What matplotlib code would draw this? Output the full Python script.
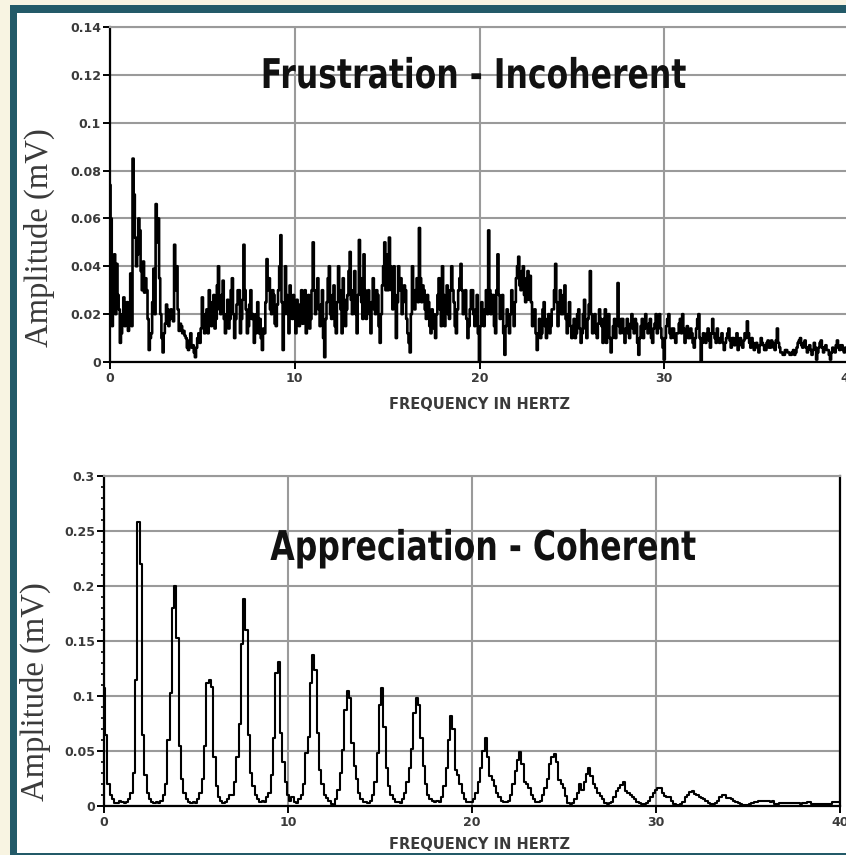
import numpy as np
import matplotlib

matplotlib.use("Agg")
import matplotlib.pyplot as plt
from matplotlib.patches import Rectangle
from matplotlib.patheffects import AbstractPathEffect
from matplotlib.transforms import Affine2D

# frustration spectrum, every 0.0625 Hz from 0 to 40 Hz, one row per hertz
frustration_amp = [
    0.074, 0.060, 0.015, 0.030, 0.045, 0.020, 0.041, 0.028, 0.022, 0.008, 0.012, 0.020, 0.027, 0.015, 0.018, 0.025,
    0.013, 0.020, 0.037, 0.015, 0.085, 0.070, 0.052, 0.040, 0.045, 0.060, 0.055, 0.038, 0.030, 0.042, 0.029, 0.035,
    0.030, 0.018, 0.005, 0.010, 0.012, 0.025, 0.039, 0.020, 0.066, 0.050, 0.060, 0.035, 0.020, 0.010, 0.004, 0.012,
    0.016, 0.024, 0.022, 0.015, 0.018, 0.022, 0.020, 0.017, 0.049, 0.030, 0.040, 0.022, 0.013, 0.016, 0.015, 0.012,
    0.013, 0.011, 0.010, 0.006, 0.005, 0.009, 0.012, 0.006, 0.007, 0.004, 0.002, 0.006, 0.010, 0.012, 0.008, 0.014,
    0.027, 0.016, 0.012, 0.020, 0.022, 0.012, 0.030, 0.018, 0.015, 0.025, 0.028, 0.014, 0.018, 0.032, 0.040, 0.022,
    0.020, 0.028, 0.034, 0.018, 0.012, 0.020, 0.026, 0.014, 0.018, 0.030, 0.035, 0.020, 0.010, 0.018, 0.024, 0.030,
    0.030, 0.012, 0.018, 0.026, 0.049, 0.030, 0.022, 0.012, 0.015, 0.024, 0.030, 0.018, 0.020, 0.008, 0.012, 0.020,
    0.025, 0.012, 0.018, 0.010, 0.005, 0.014, 0.012, 0.025, 0.043, 0.030, 0.035, 0.022, 0.020, 0.030, 0.028, 0.016,
    0.015, 0.024, 0.030, 0.040, 0.053, 0.025, 0.005, 0.020, 0.040, 0.028, 0.020, 0.012, 0.032, 0.022, 0.018, 0.028,
    0.018, 0.012, 0.026, 0.020, 0.015, 0.024, 0.030, 0.016, 0.022, 0.030, 0.012, 0.020, 0.028, 0.014, 0.018, 0.030,
    0.050, 0.030, 0.020, 0.028, 0.035, 0.022, 0.015, 0.024, 0.030, 0.010, 0.002, 0.018, 0.025, 0.035, 0.040, 0.020,
    0.018, 0.028, 0.032, 0.015, 0.012, 0.025, 0.040, 0.030, 0.022, 0.012, 0.035, 0.026, 0.015, 0.022, 0.028, 0.038,
    0.046, 0.026, 0.020, 0.030, 0.038, 0.020, 0.012, 0.028, 0.051, 0.035, 0.025, 0.018, 0.045, 0.030, 0.018, 0.026,
    0.030, 0.020, 0.012, 0.025, 0.035, 0.022, 0.020, 0.030, 0.028, 0.015, 0.008, 0.020, 0.032, 0.040, 0.050, 0.030,
    0.045, 0.030, 0.052, 0.040, 0.030, 0.022, 0.040, 0.028, 0.010, 0.025, 0.040, 0.030, 0.035, 0.020, 0.025, 0.032,
    0.030, 0.018, 0.012, 0.008, 0.004, 0.020, 0.040, 0.030, 0.022, 0.030, 0.035, 0.025, 0.056, 0.035, 0.025, 0.032,
    0.030, 0.022, 0.018, 0.028, 0.025, 0.015, 0.012, 0.022, 0.020, 0.014, 0.010, 0.020, 0.028, 0.035, 0.022, 0.015,
    0.040, 0.028, 0.015, 0.025, 0.032, 0.020, 0.018, 0.030, 0.040, 0.030, 0.025, 0.015, 0.012, 0.022, 0.030, 0.035,
    0.041, 0.030, 0.020, 0.028, 0.030, 0.018, 0.010, 0.015, 0.022, 0.030, 0.030, 0.020, 0.015, 0.022, 0.028, 0.012,
    0.000, 0.015, 0.025, 0.018, 0.015, 0.022, 0.030, 0.020, 0.055, 0.030, 0.020, 0.028, 0.028, 0.015, 0.012, 0.030,
    0.045, 0.028, 0.018, 0.025, 0.028, 0.012, 0.003, 0.015, 0.022, 0.018, 0.012, 0.020, 0.030, 0.022, 0.015, 0.025,
    0.035, 0.040, 0.044, 0.032, 0.030, 0.038, 0.040, 0.028, 0.025, 0.035, 0.038, 0.026, 0.036, 0.025, 0.015, 0.020,
    0.022, 0.012, 0.005, 0.012, 0.018, 0.010, 0.012, 0.022, 0.025, 0.015, 0.010, 0.018, 0.020, 0.012, 0.015, 0.022,
    0.022, 0.030, 0.041, 0.025, 0.015, 0.022, 0.030, 0.020, 0.020, 0.028, 0.032, 0.018, 0.012, 0.020, 0.025, 0.015,
    0.010, 0.015, 0.018, 0.010, 0.012, 0.020, 0.022, 0.014, 0.008, 0.012, 0.020, 0.026, 0.014, 0.010, 0.018, 0.024,
    0.038, 0.020, 0.012, 0.018, 0.020, 0.012, 0.010, 0.016, 0.022, 0.018, 0.015, 0.008, 0.018, 0.022, 0.008, 0.012,
    0.020, 0.010, 0.004, 0.010, 0.015, 0.018, 0.010, 0.016, 0.033, 0.015, 0.012, 0.018, 0.018, 0.012, 0.008, 0.014,
    0.018, 0.012, 0.010, 0.016, 0.020, 0.014, 0.012, 0.018, 0.016, 0.008, 0.003, 0.010, 0.015, 0.018, 0.010, 0.014,
    0.020, 0.015, 0.012, 0.016, 0.018, 0.010, 0.008, 0.014, 0.016, 0.020, 0.012, 0.016, 0.020, 0.014, 0.010, 0.006,
    0.001, 0.010, 0.015, 0.018, 0.020, 0.012, 0.010, 0.014, 0.014, 0.010, 0.008, 0.012, 0.012, 0.016, 0.018, 0.012,
    0.020, 0.014, 0.008, 0.012, 0.015, 0.010, 0.010, 0.014, 0.012, 0.008, 0.006, 0.010, 0.014, 0.018, 0.020, 0.010,
    0.000, 0.008, 0.012, 0.010, 0.008, 0.012, 0.014, 0.009, 0.006, 0.012, 0.018, 0.012, 0.010, 0.008, 0.014, 0.010,
    0.008, 0.010, 0.012, 0.008, 0.005, 0.008, 0.010, 0.012, 0.014, 0.009, 0.006, 0.010, 0.010, 0.007, 0.008, 0.012,
    0.005, 0.008, 0.010, 0.007, 0.006, 0.009, 0.012, 0.010, 0.017, 0.012, 0.008, 0.006, 0.010, 0.008, 0.005, 0.007,
    0.008, 0.006, 0.004, 0.007, 0.010, 0.008, 0.007, 0.005, 0.005, 0.008, 0.009, 0.006, 0.006, 0.009, 0.008, 0.006,
    0.005, 0.009, 0.014, 0.008, 0.006, 0.004, 0.004, 0.003, 0.003, 0.005, 0.005, 0.004, 0.004, 0.003, 0.003, 0.004,
    0.005, 0.003, 0.004, 0.006, 0.008, 0.009, 0.010, 0.007, 0.006, 0.008, 0.009, 0.006, 0.004, 0.006, 0.007, 0.005,
    0.003, 0.005, 0.008, 0.006, 0.001, 0.004, 0.006, 0.008, 0.009, 0.006, 0.004, 0.006, 0.007, 0.005, 0.005, 0.003,
    0.001, 0.004, 0.006, 0.005, 0.004, 0.007, 0.009, 0.006, 0.005, 0.007, 0.007, 0.005, 0.004, 0.006, 0.006, 0.004,
    0.005,
]

# appreciation spectrum, every 0.125 Hz from 0 to 40 Hz, one row per hertz
appreciation_amp = [
    0.107, 0.065, 0.020, 0.010, 0.006, 0.003, 0.003, 0.005,
    0.004, 0.003, 0.004, 0.006, 0.012, 0.030, 0.115, 0.258,
    0.220, 0.065, 0.028, 0.012, 0.006, 0.004, 0.003, 0.004,
    0.003, 0.005, 0.010, 0.020, 0.060, 0.103, 0.180, 0.200,
    0.153, 0.055, 0.025, 0.012, 0.006, 0.004, 0.003, 0.004,
    0.003, 0.006, 0.012, 0.025, 0.055, 0.112, 0.115, 0.108,
    0.045, 0.018, 0.008, 0.005, 0.003, 0.004, 0.006, 0.010,
    0.010, 0.022, 0.045, 0.075, 0.147, 0.188, 0.160, 0.065,
    0.030, 0.018, 0.010, 0.006, 0.004, 0.005, 0.004, 0.008,
    0.012, 0.028, 0.062, 0.121, 0.131, 0.066, 0.040, 0.022,
    0.010, 0.005, 0.008, 0.004, 0.003, 0.006, 0.010, 0.020,
    0.048, 0.063, 0.112, 0.137, 0.124, 0.066, 0.033, 0.020,
    0.010, 0.007, 0.005, 0.002, 0.001, 0.006, 0.015, 0.030,
    0.051, 0.087, 0.105, 0.098, 0.057, 0.036, 0.025, 0.012,
    0.006, 0.004, 0.004, 0.003, 0.005, 0.010, 0.022, 0.048,
    0.092, 0.107, 0.072, 0.035, 0.018, 0.010, 0.006, 0.004,
    0.004, 0.003, 0.006, 0.012, 0.022, 0.035, 0.052, 0.085,
    0.098, 0.092, 0.062, 0.036, 0.020, 0.010, 0.006, 0.005,
    0.004, 0.005, 0.004, 0.008, 0.018, 0.035, 0.060, 0.082,
    0.070, 0.033, 0.028, 0.020, 0.012, 0.006, 0.004, 0.004,
    0.004, 0.006, 0.012, 0.022, 0.035, 0.050, 0.0615, 0.045,
    0.027, 0.024, 0.018, 0.012, 0.008, 0.005, 0.004, 0.004,
    0.005, 0.010, 0.020, 0.032, 0.042, 0.049, 0.038, 0.022,
    0.020, 0.016, 0.010, 0.006, 0.004, 0.004, 0.005, 0.010,
    0.016, 0.025, 0.038, 0.045, 0.047, 0.040, 0.024, 0.020,
    0.016, 0.009, 0.003, 0.002, 0.003, 0.006, 0.012, 0.020,
    0.015, 0.022, 0.029, 0.0345, 0.027, 0.020, 0.016, 0.012,
    0.009, 0.006, 0.003, 0.002, 0.003, 0.004, 0.008, 0.014,
    0.016, 0.019, 0.022, 0.014, 0.012, 0.010, 0.008, 0.006,
    0.004, 0.003, 0.002, 0.002, 0.003, 0.005, 0.008, 0.012,
    0.015, 0.016, 0.016, 0.012, 0.009, 0.008, 0.008, 0.005,
    0.002, 0.001, 0.001, 0.002, 0.004, 0.008, 0.010, 0.013,
    0.014, 0.011, 0.010, 0.008, 0.007, 0.006, 0.005, 0.003,
    0.002, 0.002, 0.003, 0.005, 0.008, 0.010, 0.010, 0.007,
    0.007, 0.006, 0.005, 0.004, 0.003, 0.002, 0.001, 0.001,
    0.001, 0.002, 0.003, 0.004, 0.004, 0.005, 0.005, 0.005,
    0.005, 0.005, 0.004, 0.005, 0.002, 0.002, 0.003, 0.003,
    0.003, 0.003, 0.003, 0.003, 0.003, 0.003, 0.003, 0.002,
    0.003, 0.003, 0.004, 0.004, 0.002, 0.002, 0.002, 0.002,
    0.002, 0.002, 0.002, 0.002, 0.002, 0.004, 0.004, 0.004,
    0.004,
]

x_ticks = [0, 10, 20, 30, 40]
x_ticklabels = ["0", "10", "20", "30", "40"]
top_yticks = [0, 0.02, 0.04, 0.06, 0.08, 0.10, 0.12, 0.14]
top_yticklabels = ["0", "0.02", "0.04", "0.06", "0.08", "0.1", "0.12", "0.14"]
bot_yticks = [0, 0.05, 0.10, 0.15, 0.20, 0.25, 0.30]
bot_yticklabels = ["0", "0.05", "0.1", "0.15", "0.2", "0.25", "0.3"]

top_title = "Frustration - Incoherent"
bot_title = "Appreciation - Coherent"
x_label = "FREQUENCY IN HERTZ"
y_label = "Amplitude (mV)"

BEIGE = "#f8f4e2"
TEAL = "#235a68"
GRID = "#9a9a9a"
TICK_TXT = "#3a3a3a"

W, H = 846, 855


class SqueezeX(AbstractPathEffect):
    """Squeeze glyphs horizontally (about their centre) to a given pixel width,
    to mimic the condensed poster font of the original."""

    def __init__(self, width_px):
        super().__init__()
        self.width_px = width_px

    def draw_path(self, renderer, gc, tpath, affine, rgbFace=None):
        ext = tpath.get_extents()
        cx = 0.5 * (ext.x0 + ext.x1)
        left, right = affine.transform([[ext.x0, 0], [ext.x1, 0]])
        sx = self.width_px / max(abs(right[0] - left[0]), 1e-6)
        squeeze = Affine2D().translate(-cx, 0).scale(sx, 1).translate(cx, 0)
        renderer.draw_path(gc, tpath, squeeze + affine, rgbFace)


fig = plt.figure(figsize=(W / 100, H / 100), dpi=100)
fig.patch.set_facecolor(BEIGE)

# teal frame and white panel, kept behind the axes
fig.patches.append(Rectangle((10 / W, 0), 1, (H - 5) / H, transform=fig.transFigure,
                             facecolor=TEAL, edgecolor="none", zorder=-20))
fig.patches.append(Rectangle((17.3 / W, 2.5 / H), 1, (H - 2.5 - 12.7) / H,
                             transform=fig.transFigure, facecolor="white",
                             edgecolor="none", zorder=-10))


def style_axes(ax, yticks, yticklabels, ymax, minor=None):
    ax.set_facecolor("none")
    ax.set_xlim(0, 40)
    ax.set_ylim(0, ymax)
    ax.set_xticks(x_ticks)
    ax.set_xticklabels(x_ticklabels)
    ax.set_yticks(yticks)
    ax.set_yticklabels(yticklabels)
    if minor is not None:
        ax.set_yticks(minor, minor=True)
    ax.grid(True, which="major", color=GRID, linewidth=1.5)
    ax.set_axisbelow(True)
    for side in ("left", "bottom", "right"):
        ax.spines[side].set_color("black")
        ax.spines[side].set_linewidth(1.6)
    ax.spines["top"].set_color(GRID)
    ax.spines["top"].set_linewidth(1.5)
    ax.tick_params(axis="both", which="major", direction="out", length=5,
                   width=1.4, color="black", labelcolor=TICK_TXT)
    ax.tick_params(axis="y", which="minor", direction="out", length=2.5,
                   width=1.2, color="black")
    ax.tick_params(axis="y", pad=1.5)
    ax.tick_params(axis="x", pad=2.5)
    for lab in ax.get_xticklabels() + ax.get_yticklabels():
        lab.set_fontfamily("DejaVu Sans")
        lab.set_fontweight("bold")
        lab.set_fontsize(9)


def pos(left, top, right, bottom):
    return [left / W, 1 - bottom / H, (right - left) / W, (bottom - top) / H]


title_font = dict(family="DejaVu Sans", fontweight="bold", fontsize=29.5,
                  color="#111111")
xlabel_font = dict(family="DejaVu Sans", fontweight="bold", fontsize=10.5,
                   color=TICK_TXT)
ylabel_font = dict(family=["Liberation Serif", "DejaVu Serif"], fontsize=23.5,
                   color="#3a3a3a")

# top panel
freq_top = np.linspace(0, 40, len(frustration_amp))
ax1 = fig.add_axes(pos(110, 27, 849, 362))
ax1.step(freq_top, frustration_amp, where="mid", color="black", linewidth=1.9,
         zorder=3)
style_axes(ax1, top_yticks, top_yticklabels, 0.14)
ax1.spines["right"].set_visible(False)
ax1.text((474 - 110) / 739, (362 - 88) / 335, top_title, transform=ax1.transAxes,
         ha="center", va="baseline", zorder=4, path_effects=[SqueezeX(422)],
         **title_font)
ax1.set_xlabel(x_label, **xlabel_font)
ax1.xaxis.set_label_coords(0.5, -0.105)

# bottom panel
freq_bot = np.linspace(0, 40, len(appreciation_amp))
ax2 = fig.add_axes(pos(104, 476, 840, 806))
ax2.step(freq_bot, appreciation_amp, where="mid", color="black", linewidth=1.5,
         zorder=3)
style_axes(ax2, bot_yticks, bot_yticklabels, 0.30,
           minor=[v / 100 for v in range(0, 31)])
ax2.text((484 - 104) / 736, (806 - 560) / 330, bot_title, transform=ax2.transAxes,
         ha="center", va="baseline", zorder=4, path_effects=[SqueezeX(425)],
         **title_font)
ax2.set_xlabel(x_label, **xlabel_font)
ax2.xaxis.set_label_coords(0.51, -0.095)

fig.text(39 / W, 1 - 238 / H, y_label, rotation=90, ha="center", va="center",
         **ylabel_font)
fig.text(35 / W, 1 - 692 / H, y_label, rotation=90, ha="center", va="center",
         **ylabel_font)

fig.savefig("out.png", dpi=100, facecolor=fig.get_facecolor())
